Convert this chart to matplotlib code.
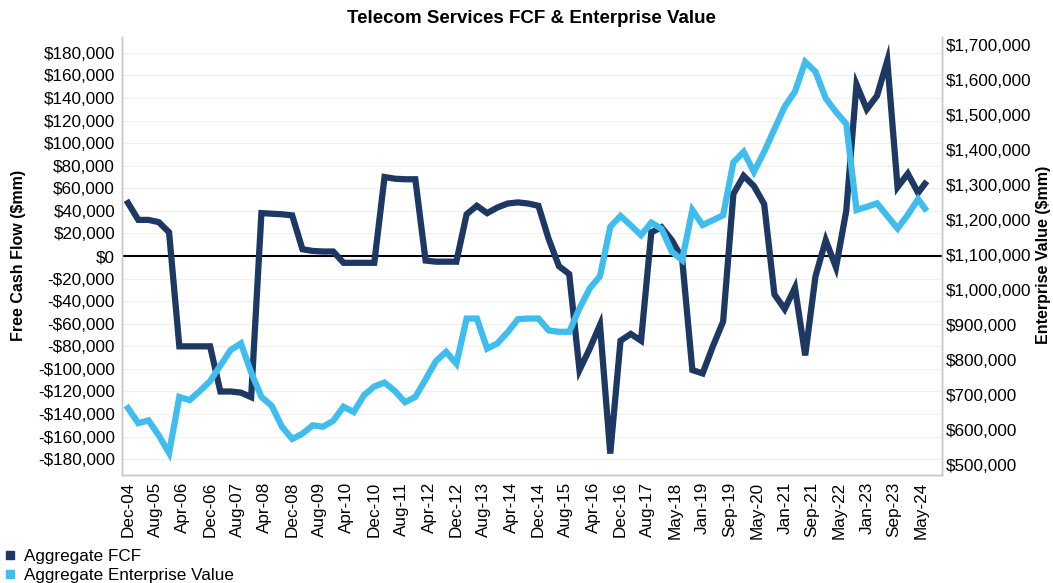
import matplotlib
matplotlib.use("Agg")
import matplotlib.pyplot as plt
from matplotlib.lines import Line2D
from matplotlib.ticker import FuncFormatter
import pandas as pd

plt.rcParams.update({"font.family": ["Liberation Sans", "DejaVu Sans"], "font.size": 12.3})
DARK = "#1d3863"; LIGHT = "#3ebdee"; GRID = "#efefef"; SPINE = "#c6c6c6"

# quarter ends Dec-04 .. Mar-24, plus the latest reading (May-24)
dates = list(pd.date_range("2004-12-31", "2024-03-31", freq="QE")) + [pd.Timestamp("2024-05-31")]

# aggregate free cash flow, $mm
fcf = [47000, 32000, 32000, 30000, 21000, -80000, -80000, -80000, -80000, -120000,
       -120000, -121000, -125000, 38000, 37500, 37000, 36000, 6000, 4500, 4000,
       4000, -6000, -6000, -6000, -6000, 70000, 68500, 68000, 68000, -4000,
       -5000, -5000, -5000, 37000, 44500, 38000, 43000, 46500, 47500, 46500,
       44500, 15000, -9000, -16000, -101000, -82000, -61000, -175000, -75000, -69000,
       -75000, 21000, 25500, 14000, -2000, -101000, -104000, -80000, -58000, 55000,
       71000, 62000, 46000, -34000, -47000, -28000, -88000, -18000, 14000, -10000,
       40000, 152000, 130000, 142000, 173000, 61000, 73000, 56000, 64000]

# aggregate enterprise value, $mm
ev = [663000, 620000, 628000, 585000, 535000, 695000, 686000, 712000, 740000, 785000,
      829000, 848000, 765000, 695000, 670000, 610000, 575000, 590000, 614000, 610000,
      627000, 667000, 652000, 700000, 725000, 736000, 712000, 680000, 695000, 745000,
      797000, 824000, 790000, 919000, 919000, 833000, 848000, 880000, 917000, 919000,
      919000, 885000, 881000, 881000, 948000, 1005000, 1040000, 1181000, 1212000, 1185000,
      1157000, 1193000, 1175000, 1110000, 1086000, 1229000, 1186000, 1200000, 1214000, 1365000,
      1395000, 1338000, 1395000, 1460000, 1524000, 1567000, 1652000, 1624000, 1548000, 1509000,
      1475000, 1229000, 1238000, 1248000, 1212000, 1176000, 1215000, 1260000, 1233000]

tick_labels = ["Dec-04", "Aug-05", "Apr-06", "Dec-06", "Aug-07", "Apr-08", "Dec-08", "Aug-09",
               "Apr-10", "Dec-10", "Aug-11", "Apr-12", "Dec-12", "Aug-13", "Apr-14", "Dec-14",
               "Aug-15", "Apr-16", "Dec-16", "Aug-17", "May-18", "Jan-19", "Sep-19", "May-20",
               "Jan-21", "Sep-21", "May-22", "Jan-23", "Sep-23", "May-24"]

fcf_ticks = list(range(-180000, 180001, 20000))
ev_ticks = list(range(500000, 1700001, 100000))

months = [(d.year - 2004) * 12 + d.month - 12 for d in dates]
tick_pos = [8 * i for i in range(len(tick_labels))]


def money(v, _pos=None):
    return f"-${abs(v):,.0f}" if v < 0 else f"${v:,.0f}"


fig = plt.figure(figsize=(10.53, 5.83), dpi=100)
ax = fig.add_axes([0.1159, 0.1852, 0.7787, 0.7513])
ax2 = ax.twinx()

for y in fcf_ticks:
    ax.axhline(y, color=GRID, lw=0.8, zorder=0)
ax.axhline(0, color="black", lw=1.5, zorder=1)
ax.plot(months, fcf, color=DARK, lw=4.5, solid_joinstyle="miter", zorder=2)
ax2.plot(months, ev, color=LIGHT, lw=4.5, solid_joinstyle="miter", zorder=3)

ax.set_xlim(-1.75, 238)
ax.set_ylim(-194000, 194000)
ax2.set_ylim(472000, 1723000)

ax.set_yticks(fcf_ticks)
ax.yaxis.set_major_formatter(FuncFormatter(money))
ax2.set_yticks(ev_ticks)
ax2.yaxis.set_major_formatter(FuncFormatter(money))
ax.set_xticks(tick_pos)
ax.set_xticklabels(tick_labels, rotation=90)

ax.tick_params(axis="both", length=0, colors="black")
ax.tick_params(axis="y", pad=5)
ax.tick_params(axis="x", pad=5)
ax2.tick_params(axis="y", length=0, pad=3)

for a in (ax, ax2):
    a.spines["top"].set_visible(False)
    for s in ("left", "right", "bottom"):
        a.spines[s].set_color(SPINE)
        a.spines[s].set_linewidth(1.0)

# axis titles placed on the figure so the right one stays inside the canvas
fig.text(0.018, 0.562, "Free Cash Flow ($mm)", rotation=90, ha="center", va="center",
         fontsize=11.5, fontweight="bold")
fig.text(0.991, 0.562, "Enterprise Value ($mm)", rotation=90, ha="center", va="center",
         fontsize=11.5, fontweight="bold")

fig.text(0.505, 0.968, "Telecom Services FCF & Enterprise Value", ha="center", va="center",
         fontsize=13.5, fontweight="bold")

handles = [Line2D([], [], marker="s", ls="none", color=DARK, markersize=6),
           Line2D([], [], marker="s", ls="none", color=LIGHT, markersize=6)]
fig.legend(handles, ["Aggregate FCF", "Aggregate Enterprise Value"], loc="lower left",
           bbox_to_anchor=(-0.002, -0.012), frameon=False, handlelength=0.6, handletextpad=0.5,
           labelspacing=0.25, borderaxespad=0.0, fontsize=12.3)

fig.savefig("out.png", dpi=100)
